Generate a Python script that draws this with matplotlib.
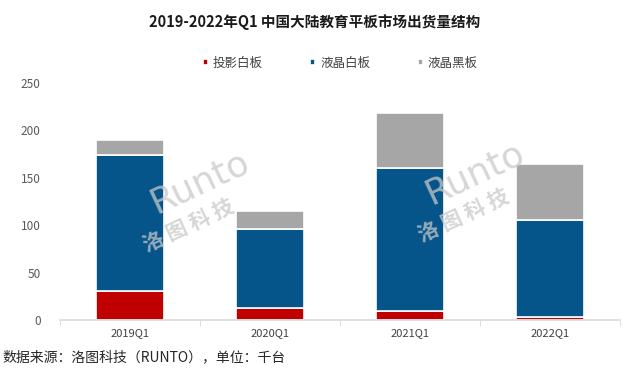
import numpy as np
import matplotlib.pyplot as plt

plt.rcParams['font.family'] = ['Noto Sans CJK SC', 'DejaVu Sans']

quarters = ['2019Q1', '2020Q1', '2021Q1', '2022Q1']
projector = [31, 13, 9, 3]        # 投影白板
lcd_white = [143, 83, 151, 103]   # 液晶白板
lcd_black = [16, 19, 58, 59]      # 液晶黑板
series_names = ['投影白板', '液晶白板', '液晶黑板']
colors = ['#C00000', '#05558A', '#A6A6A6']

fig = plt.figure(figsize=(6.3, 3.73), dpi=100)
ax = fig.add_axes([60/630, 1-320/373, 560/630, (320-83)/373])

x = np.arange(len(quarters))
bottom = np.zeros(len(quarters))
for vals, name, c in zip([projector, lcd_white, lcd_black], series_names, colors):
    ax.bar(x, vals, width=0.49, bottom=bottom, color=c, edgecolor='white', linewidth=1.2, label=name)
    bottom += np.array(vals)

ax.set_xlim(-0.5, 3.5)
ax.set_ylim(0, 250)
ax.set_yticks(range(0, 251, 50))
ax.set_xticks(x)
ax.set_xticklabels(quarters)
ax.set_xticks(np.arange(-0.5, 4, 1), minor=True)
ax.tick_params(axis='x', which='major', length=0, labelsize=8, colors='#404040', pad=6)
ax.tick_params(axis='x', which='minor', length=4, color='#D9D9D9')
ax.tick_params(axis='y', length=0, labelsize=8.5, colors='#595959', pad=14)
for s in ['top', 'right', 'left']:
    ax.spines[s].set_visible(False)
ax.spines['bottom'].set_color('#D9D9D9')
ax.spines['bottom'].set_linewidth(1.2)

# watermark
for wx, wy in [(0.25, 0.58), (0.74, 0.62)]:
    ax.text(wx, wy, 'Runto', transform=ax.transAxes, fontsize=26, color='#C8C8C8', alpha=0.75,
            rotation=25, ha='center', va='center', family='DejaVu Sans')
    ax.text(wx - 0.02, wy - 0.18, '洛 图 科 技', transform=ax.transAxes, fontsize=15, color='#C8C8C8',
            alpha=0.75, rotation=25, ha='center', va='center', fontweight='bold')

fig.text(0.5, 1-22/373, '2019-2022年Q1 中国大陆教育平板市场出货量结构', ha='center', va='center',
         fontsize=10.5, fontweight='bold', color='#1a1a1a')

handles, labels = ax.get_legend_handles_labels()
fig.legend(handles, labels, loc='center', bbox_to_anchor=(0.54, 1-63/373), ncol=3, frameon=False,
           fontsize=9, handlelength=0.4, handleheight=0.4, columnspacing=3.8, handletextpad=0.4,
           labelcolor='#404040')

fig.text(2/630, 1-357/373, '数据来源：洛图科技（RUNTO），单位：千台', ha='left', va='center',
         fontsize=10, color='#262626')

fig.savefig('out.png', dpi=100)
